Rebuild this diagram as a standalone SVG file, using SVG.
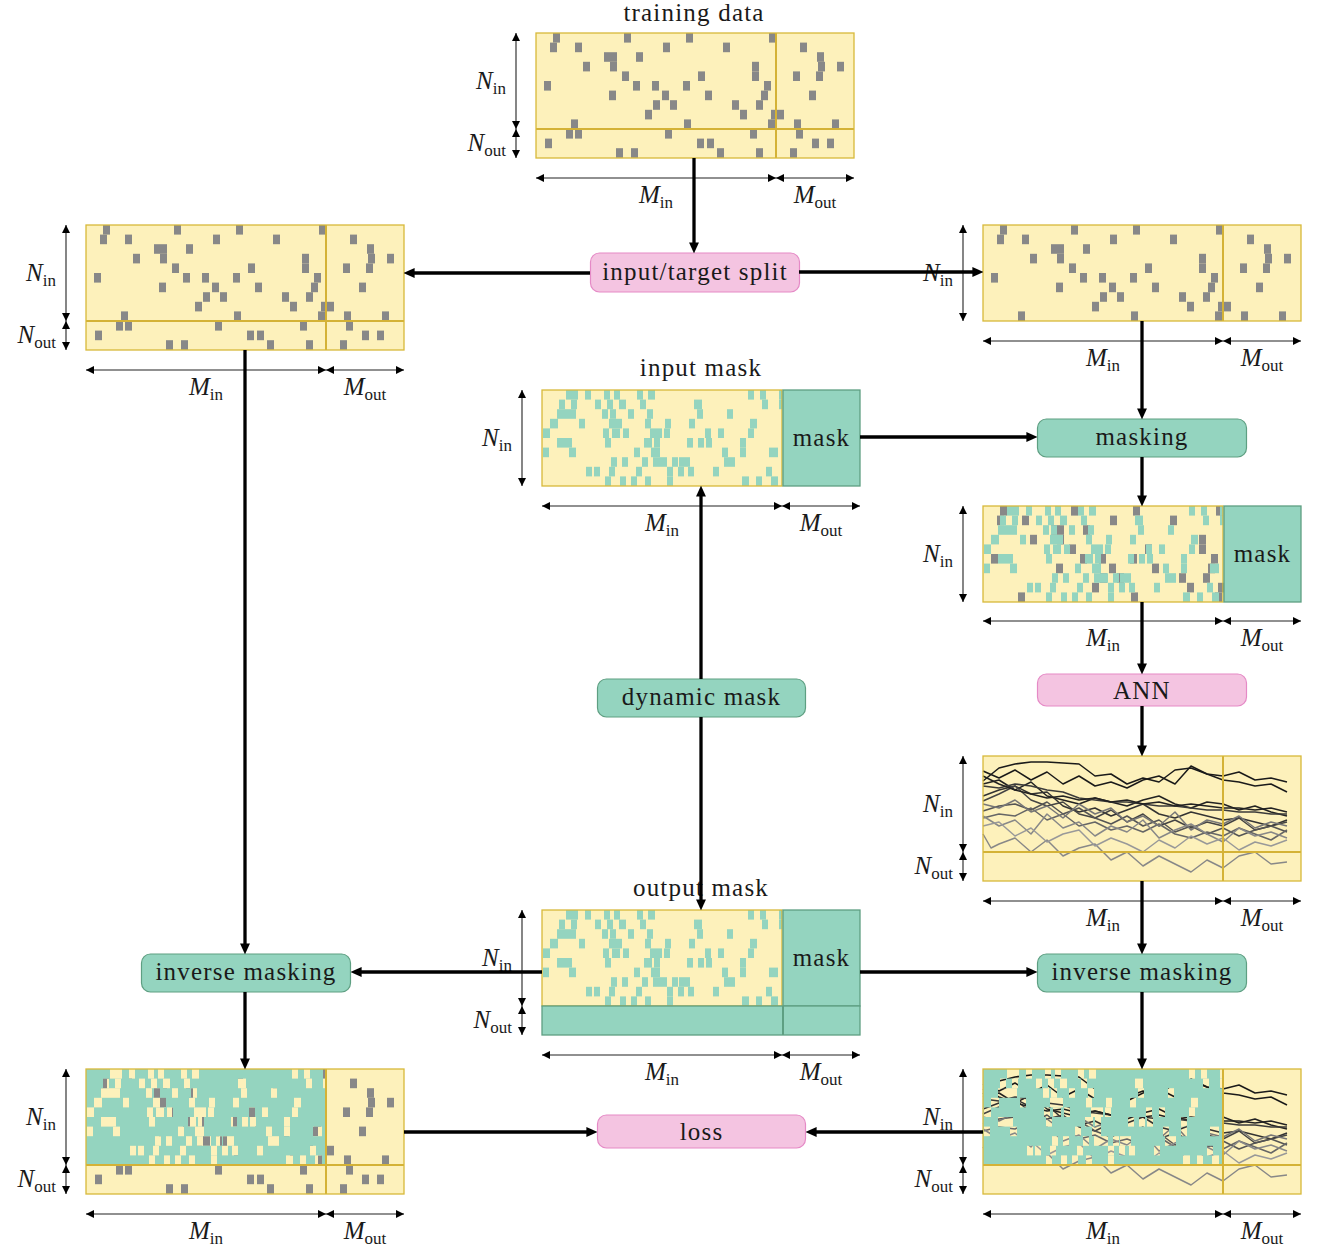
<svg xmlns="http://www.w3.org/2000/svg" xmlns:xlink="http://www.w3.org/1999/xlink" width="1326" height="1249" viewBox="0 0 1326 1249">
<style>
.yf{fill:#FDF1BB}
.fr{fill:none;stroke:#D8B93A;stroke-width:1.3}
.sp{fill:none;stroke:#D4B236;stroke-width:2}
.tf{fill:#94D4BF}
.tfr{fill:#94D4BF;stroke:#5E9F82;stroke-width:1.3}
.tsp{fill:none;stroke:#5E9F82;stroke-width:2}
.pk{fill:#F4C4E1;stroke:#E58AC6;stroke-width:1.2}
.tl{fill:#94D4BF;stroke:#5E9F82;stroke-width:1.2}
.con{fill:none;stroke:#000;stroke-width:3.3;marker-end:url(#ah)}
.dim{stroke:#222;stroke-width:1.1;marker-start:url(#dh);marker-end:url(#dh)}
text{font-family:"Liberation Serif",serif;fill:#1a1a1a}
.lb{font-size:25px;letter-spacing:1.2px;text-anchor:middle}
.mt{font-size:25px;font-style:italic}
.sb{font-size:17px;font-style:normal}
.ln polyline{fill:none;stroke-width:1.5;stroke-linejoin:round}
</style>
<defs>
<marker id="ah" viewBox="0 0 10 10" refX="6" refY="5" markerWidth="11" markerHeight="11" markerUnits="userSpaceOnUse" orient="auto"><path d="M0,0.5 L10,5 L0,9.5 z" fill="#000"/></marker>
<marker id="dh" viewBox="0 0 8 8" refX="8" refY="4" markerWidth="8" markerHeight="8" markerUnits="userSpaceOnUse" orient="auto-start-reverse"><path d="M0,0 L8,4 L0,8 z" fill="#000"/></marker>
<g id="Gin" fill="#888">
<rect x="17" y="0" width="7" height="9.6"/><rect x="88" y="0" width="7" height="9.6"/><rect x="150" y="0" width="7" height="9.6"/><rect x="233" y="0" width="7" height="9.6"/>
<rect x="14" y="9.6" width="7" height="9.6"/><rect x="39" y="9.6" width="7" height="9.6"/><rect x="127" y="9.6" width="7" height="9.6"/><rect x="187" y="9.6" width="7" height="9.6"/><rect x="264" y="9.6" width="7" height="9.6"/>
<rect x="68" y="19.2" width="13" height="9.6"/><rect x="100" y="19.2" width="7" height="9.6"/><rect x="281" y="19.2" width="7" height="9.6"/>
<rect x="47" y="28.8" width="7" height="9.6"/><rect x="74" y="28.8" width="7" height="9.6"/><rect x="216" y="28.8" width="7" height="9.6"/><rect x="282" y="28.8" width="7" height="9.6"/><rect x="301" y="28.8" width="7" height="9.6"/>
<rect x="86" y="38.4" width="7" height="9.6"/><rect x="162" y="38.4" width="7" height="9.6"/><rect x="216" y="38.4" width="7" height="9.6"/><rect x="257" y="38.4" width="7" height="9.6"/><rect x="280" y="38.4" width="7" height="9.6"/>
<rect x="8" y="48" width="7" height="9.6"/><rect x="97" y="48" width="7" height="9.6"/><rect x="116" y="48" width="7" height="9.6"/><rect x="147" y="48" width="7" height="9.6"/><rect x="228" y="48" width="7" height="9.6"/>
<rect x="73" y="57.6" width="7" height="9.6"/><rect x="126" y="57.6" width="7" height="9.6"/><rect x="169" y="57.6" width="7" height="9.6"/><rect x="225" y="57.6" width="7" height="9.6"/><rect x="273" y="57.6" width="7" height="9.6"/>
<rect x="117" y="67.2" width="7" height="9.6"/><rect x="134" y="67.2" width="7" height="9.6"/><rect x="196" y="67.2" width="7" height="9.6"/><rect x="220" y="67.2" width="7" height="9.6"/>
<rect x="109" y="76.8" width="7" height="9.6"/><rect x="204" y="76.8" width="7" height="9.6"/><rect x="235" y="76.8" width="13" height="9.6"/>
<rect x="35" y="86.4" width="7" height="9.6"/><rect x="148" y="86.4" width="7" height="9.6"/><rect x="232" y="86.4" width="7" height="9.6"/><rect x="258" y="86.4" width="7" height="9.6"/><rect x="296" y="86.4" width="7" height="9.6"/>
</g>
<g id="Gout" fill="#888">
<rect x="30" y="96" width="7" height="9.6"/><rect x="39" y="96" width="7" height="9.6"/><rect x="129" y="96" width="7" height="9.6"/><rect x="214" y="96" width="7" height="9.6"/><rect x="260" y="96" width="7" height="9.6"/>
<rect x="9" y="105.6" width="7" height="9.6"/><rect x="161" y="105.6" width="7" height="9.6"/><rect x="171" y="105.6" width="7" height="9.6"/><rect x="276" y="105.6" width="7" height="9.6"/><rect x="291" y="105.6" width="7" height="9.6"/>
<rect x="80" y="115.2" width="7" height="9.6"/><rect x="95" y="115.2" width="7" height="9.6"/><rect x="181" y="115.2" width="7" height="9.6"/><rect x="220" y="115.2" width="7" height="9.6"/><rect x="254" y="115.2" width="7" height="9.6"/>
</g>
<g id="T">
<rect x="24" y="0" width="12" height="9.6"/><rect x="43" y="0" width="6" height="9.6"/><rect x="62" y="0" width="6" height="9.6"/><rect x="72" y="0" width="6" height="9.6"/><rect x="95" y="0" width="6" height="9.6"/><rect x="106" y="0" width="7" height="9.6"/><rect x="206" y="0" width="6" height="9.6"/><rect x="218" y="0" width="6" height="9.6"/><rect x="237" y="0" width="3" height="9.6"/>
<rect x="17" y="9.6" width="6" height="9.6"/><rect x="29" y="9.6" width="6" height="9.6"/><rect x="53" y="9.6" width="6" height="9.6"/><rect x="65" y="9.6" width="6" height="9.6"/><rect x="77" y="9.6" width="7" height="9.6"/><rect x="98" y="9.6" width="6" height="9.6"/><rect x="152" y="9.6" width="8" height="9.6"/><rect x="220" y="9.6" width="6" height="9.6"/><rect x="237" y="9.6" width="3" height="9.6"/>
<rect x="15" y="19.2" width="19" height="9.6"/><rect x="60" y="19.2" width="6" height="9.6"/><rect x="68" y="19.2" width="6" height="9.6"/><rect x="86" y="19.2" width="6" height="9.6"/><rect x="105" y="19.2" width="6" height="9.6"/><rect x="155" y="19.2" width="6" height="9.6"/><rect x="185" y="19.2" width="6" height="9.6"/>
<rect x="8" y="28.8" width="8" height="9.6"/><rect x="37" y="28.8" width="6" height="9.6"/><rect x="67" y="28.8" width="13" height="9.6"/><rect x="103" y="28.8" width="6" height="9.6"/><rect x="123" y="28.8" width="6" height="9.6"/><rect x="147" y="28.8" width="6" height="9.6"/><rect x="208" y="28.8" width="7" height="9.6"/>
<rect x="1" y="38.4" width="7" height="9.6"/><rect x="61" y="38.4" width="6" height="9.6"/><rect x="70" y="38.4" width="8" height="9.6"/><rect x="81" y="38.4" width="6" height="9.6"/><rect x="108" y="38.4" width="12" height="9.6"/><rect x="122" y="38.4" width="6" height="9.6"/><rect x="163" y="38.4" width="6" height="9.6"/><rect x="176" y="38.4" width="6" height="9.6"/><rect x="206" y="38.4" width="6" height="9.6"/>
<rect x="15" y="48" width="15" height="9.6"/><rect x="63" y="48" width="6" height="9.6"/><rect x="102" y="48" width="8" height="9.6"/><rect x="112" y="48" width="6" height="9.6"/><rect x="145" y="48" width="6" height="9.6"/><rect x="156" y="48" width="6" height="9.6"/><rect x="164" y="48" width="6" height="9.6"/><rect x="198" y="48" width="6" height="9.6"/>
<rect x="1" y="57.6" width="6" height="9.6"/><rect x="27" y="57.6" width="7" height="9.6"/><rect x="92" y="57.6" width="6" height="9.6"/><rect x="109" y="57.6" width="9" height="9.6"/><rect x="180" y="57.6" width="6" height="9.6"/><rect x="198" y="57.6" width="6" height="9.6"/><rect x="227" y="57.6" width="9" height="9.6"/>
<rect x="69" y="67.2" width="6" height="9.6"/><rect x="80" y="67.2" width="6" height="9.6"/><rect x="100" y="67.2" width="6" height="9.6"/><rect x="111" y="67.2" width="14" height="9.6"/><rect x="130" y="67.2" width="6" height="9.6"/><rect x="137" y="67.2" width="11" height="9.6"/><rect x="182" y="67.2" width="11" height="9.6"/>
<rect x="44" y="76.8" width="6" height="9.6"/><rect x="52" y="76.8" width="6" height="9.6"/><rect x="67" y="76.8" width="6" height="9.6"/><rect x="94" y="76.8" width="6" height="9.6"/><rect x="125" y="76.8" width="6" height="9.6"/><rect x="136" y="76.8" width="6" height="9.6"/><rect x="146" y="76.8" width="6" height="9.6"/><rect x="171" y="76.8" width="6" height="9.6"/><rect x="224" y="76.8" width="6" height="9.6"/>
<rect x="63" y="86.4" width="6" height="9.6"/><rect x="78" y="86.4" width="6" height="9.6"/><rect x="89" y="86.4" width="6" height="9.6"/><rect x="103" y="86.4" width="6" height="9.6"/><rect x="125" y="86.4" width="6" height="9.6"/><rect x="200" y="86.4" width="7" height="9.6"/><rect x="214" y="86.4" width="6" height="9.6"/><rect x="229" y="86.4" width="7" height="9.6"/>
</g>
<g id="L" class="ln">
<polyline stroke="#1a1a1a" points="0,25 16,12 32,8 48,6 64,6 80,7 96,8 112,20 128,18 144,28 160,22 176,26 192,14 208,12 224,18 240,20 256,16 272,24 288,22 304,26"/>
<polyline stroke="#1a1a1a" points="0,15 16,22 32,14 48,24 64,16 80,28 96,20 112,30 128,26 144,32 160,24 176,20 192,28 208,10 224,18 240,24 256,26 272,30 288,28 304,36"/>
<polyline stroke="#222" points="0,28 16,24 32,34 48,26 64,40 80,44 96,48 112,42 128,46 144,50 160,44 176,40 192,48 208,52 224,46 240,48 256,54 272,50 288,56 304,60"/>
<polyline stroke="#333" points="0,40 16,34 32,30 48,38 64,36 80,50 96,56 112,52 128,60 144,54 160,48 176,58 192,62 208,56 224,60 240,64 256,62 272,66 288,70 304,64"/>
<polyline stroke="#3a3a3a" points="0,30 16,32 32,28 48,30 64,34 80,36 96,42 112,44 128,46 144,46 160,48 176,50 192,50 208,52 224,54 240,54 256,56 272,56 288,58 304,58"/>
<polyline stroke="#444" points="0,45 16,38 32,30 48,44 64,50 80,46 96,58 112,62 128,54 144,66 160,58 176,70 192,64 208,72 224,66 240,70 256,62 272,74 288,70 304,66"/>
<polyline stroke="#555" points="0,55 16,50 32,48 48,54 64,46 80,58 96,52 112,62 128,68 144,60 160,70 176,64 192,76 208,70 224,78 240,72 256,80 272,74 288,70 304,76"/>
<polyline stroke="#666" points="0,62 16,58 32,60 48,52 64,64 80,58 96,70 112,66 128,74 144,70 160,76 176,68 192,78 208,82 224,76 240,80 256,72 272,78 288,84 304,74"/>
<polyline stroke="#777" points="0,48 16,52 32,44 48,56 64,50 80,62 96,48 112,58 128,52 144,66 160,60 176,70 192,56 208,74 224,64 240,68 256,60 272,72 288,66 304,70"/>
<polyline stroke="#888" points="0,60 16,70 32,64 48,78 64,58 80,72 96,66 112,80 128,70 144,76 160,64 176,82 192,74 208,68 224,78 240,86 256,72 272,80 288,76 304,82"/>
<polyline stroke="#888" points="0,78 8,92 16,88 32,82 48,96 64,84 80,100 96,92 112,88 128,104 144,96 160,110 176,100 192,108 208,116 224,104 240,112 256,100 272,96 288,108 304,106"/>
<polyline stroke="#999" points="0,70 16,66 32,80 48,72 64,86 80,78 96,74 112,90 128,82 144,88 160,96 176,84 192,92 208,80 224,88 240,82 256,94 272,86 288,90 304,84"/>
<polyline stroke="#222" points="0,20 16,28 32,34 48,38 64,42 80,40 96,44 112,42 128,46 144,44 160,48 176,46 192,50 208,48 224,50 240,52 256,52 272,54 288,52 304,56"/>
</g>
<mask id="invT" maskUnits="userSpaceOnUse" x="0" y="0" width="240" height="96">
<rect width="240" height="96" fill="#fff"/>
<use href="#T" fill="#000"/>
</mask>
</defs>
<rect width="1326" height="1249" fill="#fff"/>

<!-- training data -->
<g id="training-data" transform="translate(536,33)">
<text class="lb" x="158" y="-12">training data</text>
<rect class="yf" width="318" height="125"/>
<use href="#Gin"/><use href="#Gout"/>
<path class="sp" d="M240,0V125M0,96H318"/>
<rect class="fr" width="318" height="125"/>
<line class="dim" x1="-20" y1="0" x2="-20" y2="96"/>
<line class="dim" x1="-20" y1="96" x2="-20" y2="125"/>
<line class="dim" x1="0" y1="145" x2="240" y2="145"/>
<line class="dim" x1="240" y1="145" x2="318" y2="145"/>
<text class="mt" x="-30" y="56" text-anchor="end">N<tspan class="sb" dy="5">in</tspan></text>
<text class="mt" x="-30" y="118" text-anchor="end">N<tspan class="sb" dy="5">out</tspan></text>
<text class="mt" x="120" y="170" text-anchor="middle">M<tspan class="sb" dy="5">in</tspan></text>
<text class="mt" x="279" y="170" text-anchor="middle">M<tspan class="sb" dy="5">out</tspan></text>
</g>

<!-- left top -->
<g id="left-data" transform="translate(86,225)">
<rect class="yf" width="318" height="125"/>
<use href="#Gin"/><use href="#Gout"/>
<path class="sp" d="M240,0V125M0,96H318"/>
<rect class="fr" width="318" height="125"/>
<line class="dim" x1="-20" y1="0" x2="-20" y2="96"/>
<line class="dim" x1="-20" y1="96" x2="-20" y2="125"/>
<line class="dim" x1="0" y1="145" x2="240" y2="145"/>
<line class="dim" x1="240" y1="145" x2="318" y2="145"/>
<text class="mt" x="-30" y="56" text-anchor="end">N<tspan class="sb" dy="5">in</tspan></text>
<text class="mt" x="-30" y="118" text-anchor="end">N<tspan class="sb" dy="5">out</tspan></text>
<text class="mt" x="120" y="170" text-anchor="middle">M<tspan class="sb" dy="5">in</tspan></text>
<text class="mt" x="279" y="170" text-anchor="middle">M<tspan class="sb" dy="5">out</tspan></text>
</g>

<!-- right top (input part) -->
<g id="input-data" transform="translate(983,225)">
<rect class="yf" width="318" height="96"/>
<use href="#Gin"/>
<path class="sp" d="M240,0V96"/>
<rect class="fr" width="318" height="96"/>
<line class="dim" x1="-20" y1="0" x2="-20" y2="96"/>
<line class="dim" x1="0" y1="116" x2="240" y2="116"/>
<line class="dim" x1="240" y1="116" x2="318" y2="116"/>
<text class="mt" x="-30" y="56" text-anchor="end">N<tspan class="sb" dy="5">in</tspan></text>
<text class="mt" x="120" y="141" text-anchor="middle">M<tspan class="sb" dy="5">in</tspan></text>
<text class="mt" x="279" y="141" text-anchor="middle">M<tspan class="sb" dy="5">out</tspan></text>
</g>

<!-- input mask -->
<g id="input-mask" transform="translate(542,390)">
<text class="lb" x="159" y="-14">input mask</text>
<rect class="yf" width="240" height="96"/>
<use href="#T" class="tf"/>
<rect class="fr" width="240" height="96"/>
<rect class="tfr" x="241" width="77" height="96"/>
<text class="lb" x="279.5" y="56">mask</text>
<line class="dim" x1="-20" y1="0" x2="-20" y2="96"/>
<line class="dim" x1="0" y1="116" x2="240" y2="116"/>
<line class="dim" x1="240" y1="116" x2="318" y2="116"/>
<text class="mt" x="-30" y="56" text-anchor="end">N<tspan class="sb" dy="5">in</tspan></text>
<text class="mt" x="120" y="141" text-anchor="middle">M<tspan class="sb" dy="5">in</tspan></text>
<text class="mt" x="279" y="141" text-anchor="middle">M<tspan class="sb" dy="5">out</tspan></text>
</g>

<!-- masked input -->
<g id="masked-input" transform="translate(983,506)">
<rect class="yf" width="240" height="96"/>
<use href="#Gin"/>
<use href="#T" class="tf"/>
<rect class="fr" width="240" height="96"/>
<rect class="tfr" x="241" width="77" height="96"/>
<text class="lb" x="279.5" y="56">mask</text>
<line class="dim" x1="-20" y1="0" x2="-20" y2="96"/>
<line class="dim" x1="0" y1="115" x2="240" y2="115"/>
<line class="dim" x1="240" y1="115" x2="318" y2="115"/>
<text class="mt" x="-30" y="56" text-anchor="end">N<tspan class="sb" dy="5">in</tspan></text>
<text class="mt" x="120" y="140" text-anchor="middle">M<tspan class="sb" dy="5">in</tspan></text>
<text class="mt" x="279" y="140" text-anchor="middle">M<tspan class="sb" dy="5">out</tspan></text>
</g>

<!-- ANN output -->
<g id="ann-output" transform="translate(983,756)">
<rect class="yf" width="318" height="125"/>
<use href="#L"/>
<path class="sp" d="M240,0V125M0,96H318"/>
<rect class="fr" width="318" height="125"/>
<line class="dim" x1="-20" y1="0" x2="-20" y2="96"/>
<line class="dim" x1="-20" y1="96" x2="-20" y2="125"/>
<line class="dim" x1="0" y1="145" x2="240" y2="145"/>
<line class="dim" x1="240" y1="145" x2="318" y2="145"/>
<text class="mt" x="-30" y="56" text-anchor="end">N<tspan class="sb" dy="5">in</tspan></text>
<text class="mt" x="-30" y="118" text-anchor="end">N<tspan class="sb" dy="5">out</tspan></text>
<text class="mt" x="120" y="170" text-anchor="middle">M<tspan class="sb" dy="5">in</tspan></text>
<text class="mt" x="279" y="170" text-anchor="middle">M<tspan class="sb" dy="5">out</tspan></text>
</g>

<!-- output mask -->
<g id="output-mask" transform="translate(542,910)">
<text class="lb" x="159" y="-14">output mask</text>
<rect class="yf" width="240" height="96"/>
<use href="#T" class="tf"/>
<rect class="fr" width="240" height="96"/>
<rect class="tfr" x="241" width="77" height="96"/>
<rect class="tfr" x="0" y="96" width="318" height="29"/>
<path class="tsp" d="M241,96V125"/>
<text class="lb" x="279.5" y="56">mask</text>
<line class="dim" x1="-20" y1="0" x2="-20" y2="96"/>
<line class="dim" x1="-20" y1="96" x2="-20" y2="125"/>
<line class="dim" x1="0" y1="145" x2="240" y2="145"/>
<line class="dim" x1="240" y1="145" x2="318" y2="145"/>
<text class="mt" x="-30" y="56" text-anchor="end">N<tspan class="sb" dy="5">in</tspan></text>
<text class="mt" x="-30" y="118" text-anchor="end">N<tspan class="sb" dy="5">out</tspan></text>
<text class="mt" x="120" y="170" text-anchor="middle">M<tspan class="sb" dy="5">in</tspan></text>
<text class="mt" x="279" y="170" text-anchor="middle">M<tspan class="sb" dy="5">out</tspan></text>
</g>

<!-- right bottom: inverse masked prediction -->
<g id="masked-prediction" transform="translate(983,1069)">
<rect class="yf" width="318" height="125"/>
<use href="#L"/>
<rect class="tf" width="240" height="96" mask="url(#invT)"/>
<path class="sp" d="M240,0V125M0,96H318"/>
<rect class="fr" width="318" height="125"/>
<line class="dim" x1="-20" y1="0" x2="-20" y2="96"/>
<line class="dim" x1="-20" y1="96" x2="-20" y2="125"/>
<line class="dim" x1="0" y1="145" x2="240" y2="145"/>
<line class="dim" x1="240" y1="145" x2="318" y2="145"/>
<text class="mt" x="-30" y="56" text-anchor="end">N<tspan class="sb" dy="5">in</tspan></text>
<text class="mt" x="-30" y="118" text-anchor="end">N<tspan class="sb" dy="5">out</tspan></text>
<text class="mt" x="120" y="170" text-anchor="middle">M<tspan class="sb" dy="5">in</tspan></text>
<text class="mt" x="279" y="170" text-anchor="middle">M<tspan class="sb" dy="5">out</tspan></text>
</g>

<!-- left bottom: inverse masked target -->
<g id="masked-target" transform="translate(86,1069)">
<rect class="yf" width="318" height="125"/>
<use href="#Gin"/><use href="#Gout"/>
<rect class="tf" width="240" height="96" mask="url(#invT)"/>
<path class="sp" d="M240,0V125M0,96H318"/>
<rect class="fr" width="318" height="125"/>
<line class="dim" x1="-20" y1="0" x2="-20" y2="96"/>
<line class="dim" x1="-20" y1="96" x2="-20" y2="125"/>
<line class="dim" x1="0" y1="145" x2="240" y2="145"/>
<line class="dim" x1="240" y1="145" x2="318" y2="145"/>
<text class="mt" x="-30" y="56" text-anchor="end">N<tspan class="sb" dy="5">in</tspan></text>
<text class="mt" x="-30" y="118" text-anchor="end">N<tspan class="sb" dy="5">out</tspan></text>
<text class="mt" x="120" y="170" text-anchor="middle">M<tspan class="sb" dy="5">in</tspan></text>
<text class="mt" x="279" y="170" text-anchor="middle">M<tspan class="sb" dy="5">out</tspan></text>
</g>

<!-- process boxes -->
<g id="split"><rect class="pk" x="590.5" y="253" width="209" height="39" rx="9"/><text class="lb" x="695" y="280">input/target split</text></g>
<g id="masking"><rect class="tl" x="1037.5" y="419" width="209" height="38" rx="9"/><text class="lb" x="1142" y="445">masking</text></g>
<g id="ann"><rect class="pk" x="1037.5" y="674" width="209" height="32" rx="9"/><text class="lb" x="1142" y="699">ANN</text></g>
<g id="dynamic-mask"><rect class="tl" x="597.5" y="679" width="208" height="38" rx="9"/><text class="lb" x="701.5" y="705">dynamic mask</text></g>
<g id="inverse-masking-right"><rect class="tl" x="1037.5" y="954" width="209" height="38" rx="9"/><text class="lb" x="1142" y="980">inverse masking</text></g>
<g id="inverse-masking-left"><rect class="tl" x="141.5" y="954" width="209" height="38" rx="9"/><text class="lb" x="246" y="980">inverse masking</text></g>
<g id="loss"><rect class="pk" x="597.5" y="1115" width="208" height="33" rx="9"/><text class="lb" x="701.5" y="1140">loss</text></g>

<!-- connectors -->
<g id="connectors">
<path class="con" d="M694,158V249"/>
<path class="con" d="M590,273H408"/>
<path class="con" d="M799,272H979"/>
<path class="con" d="M1142,321V415"/>
<path class="con" d="M860,437H1033"/>
<path class="con" d="M1142,457V502"/>
<path class="con" d="M1142,602V670"/>
<path class="con" d="M1142,706V752"/>
<path class="con" d="M1142,881V950"/>
<path class="con" d="M1142,992V1065"/>
<path class="con" d="M983,1132H810"/>
<path class="con" d="M860,972H1033"/>
<path class="con" d="M542,972H355"/>
<path class="con" d="M701,679V490"/>
<path class="con" d="M701,717V906"/>
<path class="con" d="M245,350V950"/>
<path class="con" d="M245,992V1065"/>
<path class="con" d="M404,1132H593"/>
</g>
</svg>
